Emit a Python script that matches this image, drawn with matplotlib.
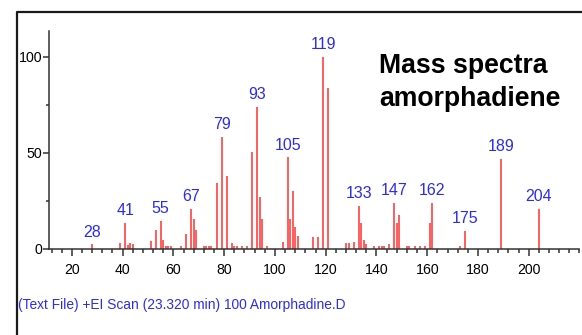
import matplotlib
matplotlib.use("Agg")
import matplotlib.pyplot as plt
from matplotlib import font_manager
from matplotlib.lines import Line2D
from matplotlib.ticker import MultipleLocator

# Pick a narrow sans font if available, otherwise regular Liberation Sans
try:
    font_manager.findfont("Liberation Sans Narrow", fallback_to_default=False)
    narrow = "Liberation Sans Narrow"
    scale = 1.2
except ValueError:
    narrow = "Liberation Sans"
    scale = 1.0

# EI mass spectrum: m/z and relative abundance (%)
mz = [28, 39, 41, 42, 43, 44, 51, 53, 55, 56, 57, 58, 59, 63, 65, 67, 68, 69,
      72, 73, 74, 75, 77, 79, 81, 83, 84, 85, 87, 89, 91, 93, 94, 95, 97,
      103, 105, 106, 107, 108, 109, 115, 117, 119, 121, 128, 129, 131, 133,
      134, 135, 136, 139, 141, 142, 143, 145, 147, 148, 149, 152, 153, 155,
      157, 159, 161, 162, 173, 175, 189, 204]
abundance = [2.4, 3.0, 13.5, 2.0, 3.0, 2.5, 4.3, 10.0, 14.7, 4.9, 1.5, 1.5, 1.5,
             1.5, 8.0, 20.8, 15.5, 10.0, 1.5, 1.5, 1.5, 1.5, 34.5, 58.3, 37.8,
             2.9, 1.5, 1.5, 1.5, 1.5, 50.3, 74.0, 27.3, 15.5, 1.5, 3.5, 47.7,
             15.5, 30.0, 11.4, 6.8, 6.0, 6.0, 100.0, 84.0, 2.9, 2.9, 3.5, 22.6,
             13.4, 4.9, 2.8, 1.4, 1.4, 1.4, 1.4, 2.8, 24.0, 13.4, 17.5, 1.4,
             1.4, 1.4, 1.4, 1.4, 13.4, 24.1, 1.4, 9.4, 46.9, 20.7]

# peaks that get an m/z label
labelled = [28, 41, 55, 67, 79, 93, 105, 119, 133, 147, 162, 175, 189, 204]

x_ticks = [20, 40, 60, 80, 100, 120, 140, 160, 180, 200]
y_ticks = [0, 50, 100]

fig = plt.figure(figsize=(5.82, 3.35), dpi=100)
ax = fig.add_axes([49 / 582, 86 / 335, 530.5 / 582, 218 / 335])

ax.vlines(mz, 0, abundance, color="#ff3030", lw=1.1)

for m in labelled:
    h = abundance[mz.index(m)]
    ax.annotate(str(m), (m, h), xytext=(0, 3.5), textcoords="offset points",
                ha="center", va="bottom", color="#2b2bf0",
                family=narrow, fontsize=11.5 * scale)

ax.set_xlim(11, 220)
ax.set_ylim(0, 113.5)
ax.set_xticks(x_ticks)
ax.set_yticks(y_ticks)
ax.xaxis.set_minor_locator(MultipleLocator(4))
ax.yaxis.set_minor_locator(MultipleLocator(25))

for side in ["top", "right"]:
    ax.spines[side].set_visible(False)
for side in ["left", "bottom"]:
    ax.spines[side].set_color("#333333")
    ax.spines[side].set_linewidth(1.1)

ax.tick_params(axis="x", which="major", length=5, width=1.1, pad=5,
               color="#333333")
ax.tick_params(axis="x", which="minor", length=3, width=1.1, color="#333333")
ax.tick_params(axis="y", which="major", length=4.3, width=1.1, pad=0.5,
               color="#333333")
ax.tick_params(axis="y", which="minor", length=2, width=1.1, color="#333333")
for lab in ax.get_xticklabels() + ax.get_yticklabels():
    lab.set_family(narrow)
    lab.set_fontsize(10.2 * scale)

# title block on the right
fig.text(379 / 582, 1 - 73 / 335, "Mass spectra", family="Liberation Sans",
         weight="bold", fontsize=19.2, ha="left", va="baseline")
fig.text(379 / 582, 1 - 106 / 335, "amorphadiene", family="Liberation Sans",
         weight="bold", fontsize=19.2, ha="left", va="baseline")

# scan info under the axis
fig.text(18 / 582, 1 - 309 / 335,
         "(Text File) +EI Scan (23.320 min) 100 Amorphadine.D",
         family=narrow, fontsize=9.9 * scale, color="#2b2bf0",
         ha="left", va="baseline")

# frame along the top and left edge
fig.add_artist(Line2D([16.5 / 582, 16.5 / 582, 1.0],
                      [0.0, 1 - 11.5 / 335, 1 - 11.5 / 335],
                      transform=fig.transFigure, color="#1a1a1a", lw=1.6))

fig.savefig("out.png", dpi=100)
